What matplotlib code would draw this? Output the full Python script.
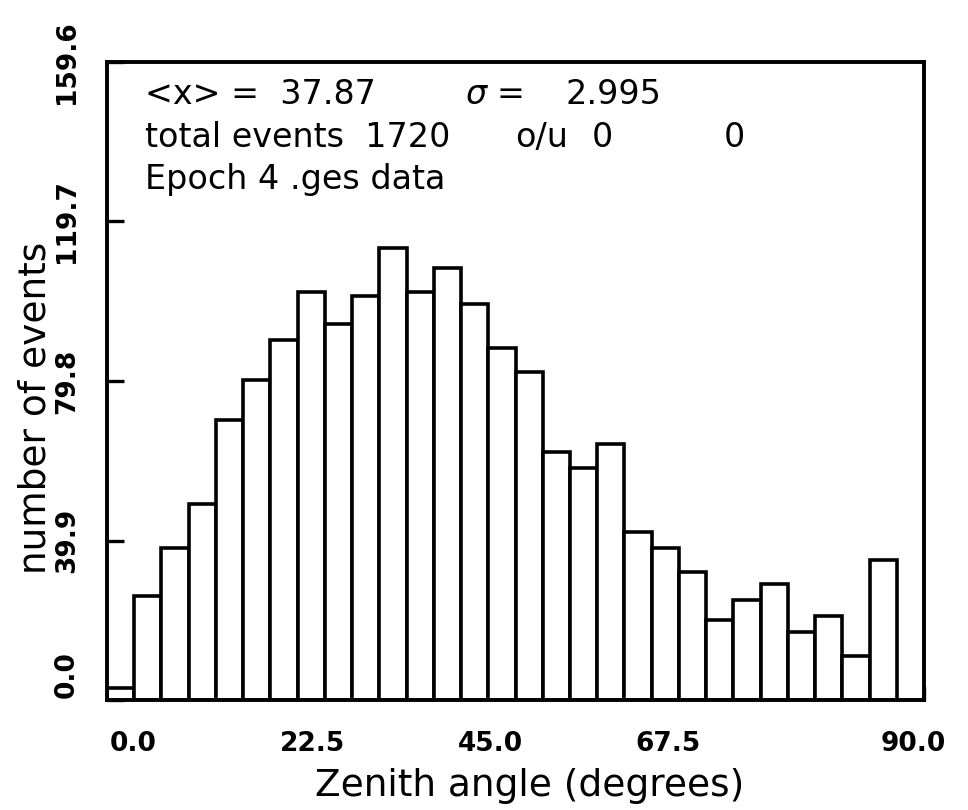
import numpy as np
import matplotlib
matplotlib.use("Agg")
import matplotlib.pyplot as plt

# histogram of zenith angles, 30 bins of 3 degrees
bin_width = 3.0
counts = [3, 26, 38, 49, 70, 80, 90, 102, 94, 101, 113, 102, 108, 99, 88,
          82, 62, 58, 64, 42, 38, 32, 20, 25, 29, 17, 21, 11, 35, 0]
bin_left = np.arange(len(counts)) * bin_width

yticks = [0.0, 39.9, 79.8, 119.7, 159.6]
ytick_labels = ["0.0", "39.9", "79.8", "119.7", "159.6"]
xticks = [0.0, 22.5, 45.0, 67.5, 90.0]
xtick_labels = ["0.0", "22.5", "45.0", "67.5", "90.0"]

mean_x = "37.87"
sigma = "2.995"
total_events = "1720"
over_under = ["0", "0"]
caption = "Epoch 4 .ges data"

W, H = 968, 810
plt.rcParams['font.family'] = ['DejaVu Sans']
fig = plt.figure(figsize=(W / 100, H / 100), dpi=100)
fig.patch.set_facecolor("white")


def px(x, y):
    # pixel position (from top-left) -> figure fraction
    return x / W, 1 - y / H


left, top, right, bottom = 107, 62, 924, 700
ax = fig.add_axes([left / W, 1 - bottom / H, (right - left) / W, (bottom - top) / H])

ax.bar(bin_left, counts, width=bin_width, align="edge", color="white",
       edgecolor="black", linewidth=2.6, zorder=2)

ax.set_xlim(0, 90)
ax.set_ylim(0, 159.6)
for s in ax.spines.values():
    s.set_linewidth(2.8)

ax.set_xticks(xticks)
ax.set_xticklabels([])
ax.set_yticks(yticks)
ax.set_yticklabels([])
ax.tick_params(axis="x", direction="in", length=10, width=2.4)
ax.tick_params(axis="y", direction="in", length=12, width=2.4)

# tick labels, placed where the original plot put them
tick_fs = 19
xlab_px = [133, 312, 490, 668, 913]
for lab, xp in zip(xtick_labels, xlab_px):
    fig.text(*px(xp, 744), lab, ha="center", va="center",
             fontsize=tick_fs, fontweight="bold")
for lab, yv in zip(ytick_labels, yticks):
    yp = bottom - yv / 159.6 * (bottom - top)
    if yv == 0:
        fig.text(*px(67, bottom - 2), lab, ha="center", va="bottom",
                 rotation=90, fontsize=tick_fs, fontweight="bold")
    else:
        fig.text(*px(67, yp), lab, ha="center", va="center",
                 rotation=90, fontsize=tick_fs, fontweight="bold")

fig.text(*px(530, 786), "Zenith angle (degrees)", ha="center", va="center",
         fontsize=27)
fig.text(*px(36, 408), "number of events", ha="center", va="center",
         rotation=90, fontsize=27)

# statistics box text
fs = 24
fig.text(*px(145, 104), "<x> =  " + mean_x, ha="left", va="baseline", fontsize=fs)
fig.text(*px(465, 104), "$\\sigma$ =", ha="left", va="baseline", fontsize=fs)
fig.text(*px(565, 104), sigma, ha="left", va="baseline", fontsize=fs)
fig.text(*px(145, 147), "total events  " + total_events, ha="left",
         va="baseline", fontsize=fs)
fig.text(*px(515, 147), "o/u", ha="left", va="baseline", fontsize=fs)
fig.text(*px(592, 147), over_under[0], ha="left", va="baseline", fontsize=fs)
fig.text(*px(724, 147), over_under[1], ha="left", va="baseline", fontsize=fs)
fig.text(*px(145, 189), caption, ha="left", va="baseline", fontsize=fs)

fig.savefig("out.png", dpi=100, facecolor="white")
